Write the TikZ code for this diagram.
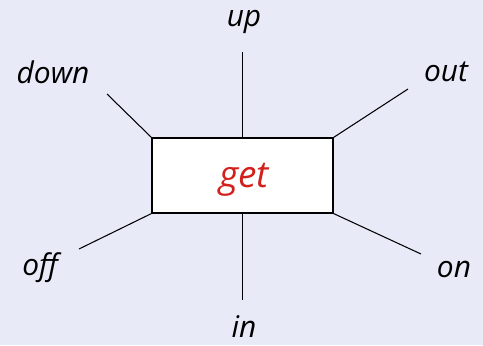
\documentclass[tikz,border=0pt]{standalone}
\usepackage{fontspec}
\setmainfont{Open Sans}
\definecolor{bgcol}{RGB}{232,234,248}
\definecolor{getred}{RGB}{210,32,28}
\tikzset{
  word/.style={font=\fontsize{17}{20}\selectfont\itshape},
  spoke/.style={line width=0.6pt}
}
\begin{document}
\begin{tikzpicture}[x=0.02cm,y=-0.02cm]
        \fill[bgcol](0,0)rectangle(483,345);
        \node[draw,fill=white,line width=0.6pt,minimum width=3.62cm,minimum height=1.5cm](get)at(242.5,175.5){};
        \node[word,font=\fontsize{21}{24}\selectfont\itshape,text=getred](gettext)at(244,180){get};
        \coordinate(U)at(242.5,52);
        \coordinate(D)at(107,94);
        \coordinate(T)at(408,89);
        \coordinate(F)at(79,249);
        \coordinate(N)at(421,254);
        \coordinate(I)at(242.5,300);
        \node[word](up)at(244,22){up};
        \node[word](down)at(53,72){down};
        \node[word](out)at(446,72){out};
        \node[word](off)at(40,268){off};
        \node[word](on)at(454,269){on};
        \node[word](in)at(244,327){in};
        \draw[spoke](get.north)--(U);
        \draw[spoke](get.north west)--(D);
        \draw[spoke](get.north east)--(T);
        \draw[spoke](get.south west)--(F);
        \draw[spoke](get.south east)--(N);
        \draw[spoke](get.south)--(I);
    \end{tikzpicture}
\end{document}
